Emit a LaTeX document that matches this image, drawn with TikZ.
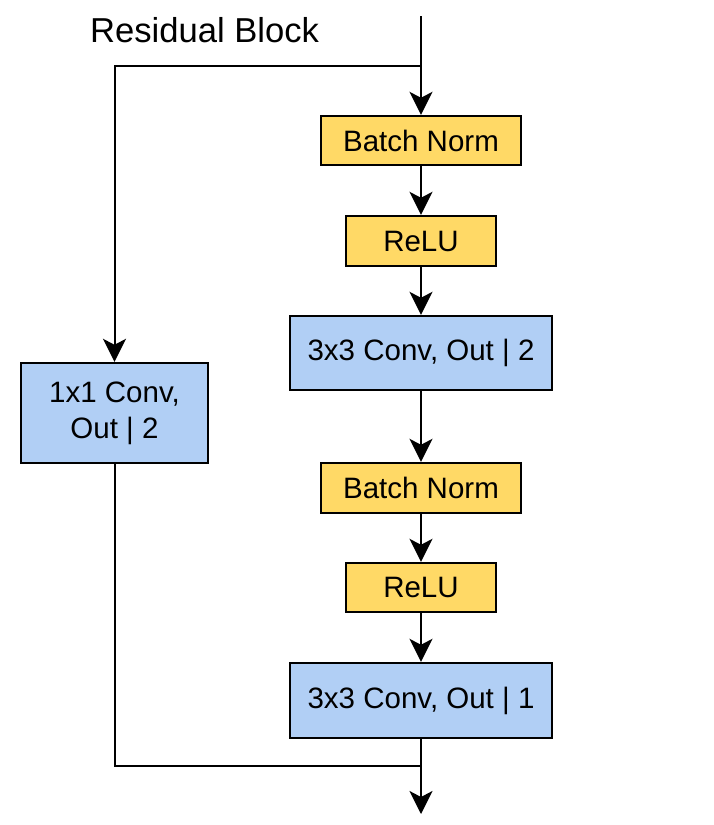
\documentclass[tikz,border=0pt]{standalone}
\usepackage{fontspec}
\setmainfont{Liberation Sans}
\usetikzlibrary{arrows.meta}
\definecolor{bnfill}{HTML}{FFD966}
\definecolor{convfill}{HTML}{B1CFF5}
\tikzset{
  box/.style={draw=black, line width=2.4pt, inner sep=0pt, font=\fontsize{29.5}{36}\selectfont, align=center},
  ybox/.style={box, fill=bnfill},
  bbox/.style={box, fill=convfill},
  conn/.style={line width=2pt, draw=black},
  arr/.style={conn, -{Stealth[length=23pt, width=23pt, inset=6pt]}},
}
\begin{document}
\begin{tikzpicture}[x=1pt, y=-1pt]
\useasboundingbox (0,0) rectangle (714,825);
\node[anchor=base west, font=\fontsize{34.6}{40}\selectfont, inner sep=0pt] (title) at (90,42.5) {Residual Block};
\node[ybox, minimum width=200pt, minimum height=49pt] (bn1) at (421,140.5) {Batch Norm};
\node[ybox, minimum width=150pt, minimum height=50pt] (relu1) at (421,241) {ReLU};
\node[bbox, minimum width=262pt, minimum height=74pt] (conv1) at (421,353) {3x3 Conv, Out | 2};
\node[ybox, minimum width=200pt, minimum height=50pt] (bn2) at (421,488) {Batch Norm};
\node[ybox, minimum width=150pt, minimum height=49pt] (relu2) at (421,587.5) {ReLU};
\node[bbox, minimum width=262pt, minimum height=75pt] (conv2) at (421,700.5) {3x3 Conv, Out | 1};
\node[bbox, minimum width=187pt, minimum height=100pt] (c11) at (114.5,413) {1x1 Conv,\\Out | 2};
\coordinate (top) at (421,16);
\coordinate (split) at (421,66);
\coordinate (merge) at (421,766);
\coordinate (end) at (421,814);
\draw[arr] (top) -- (bn1);
\draw[arr] (split) -| (c11);
\draw[arr] (bn1) -- (relu1);
\draw[arr] (relu1) -- (conv1);
\draw[arr] (conv1) -- (bn2);
\draw[arr] (bn2) -- (relu2);
\draw[arr] (relu2) -- (conv2);
\draw[conn] (c11) |- (merge);
\draw[arr] (conv2) -- (end);
\end{tikzpicture}
\end{document}
